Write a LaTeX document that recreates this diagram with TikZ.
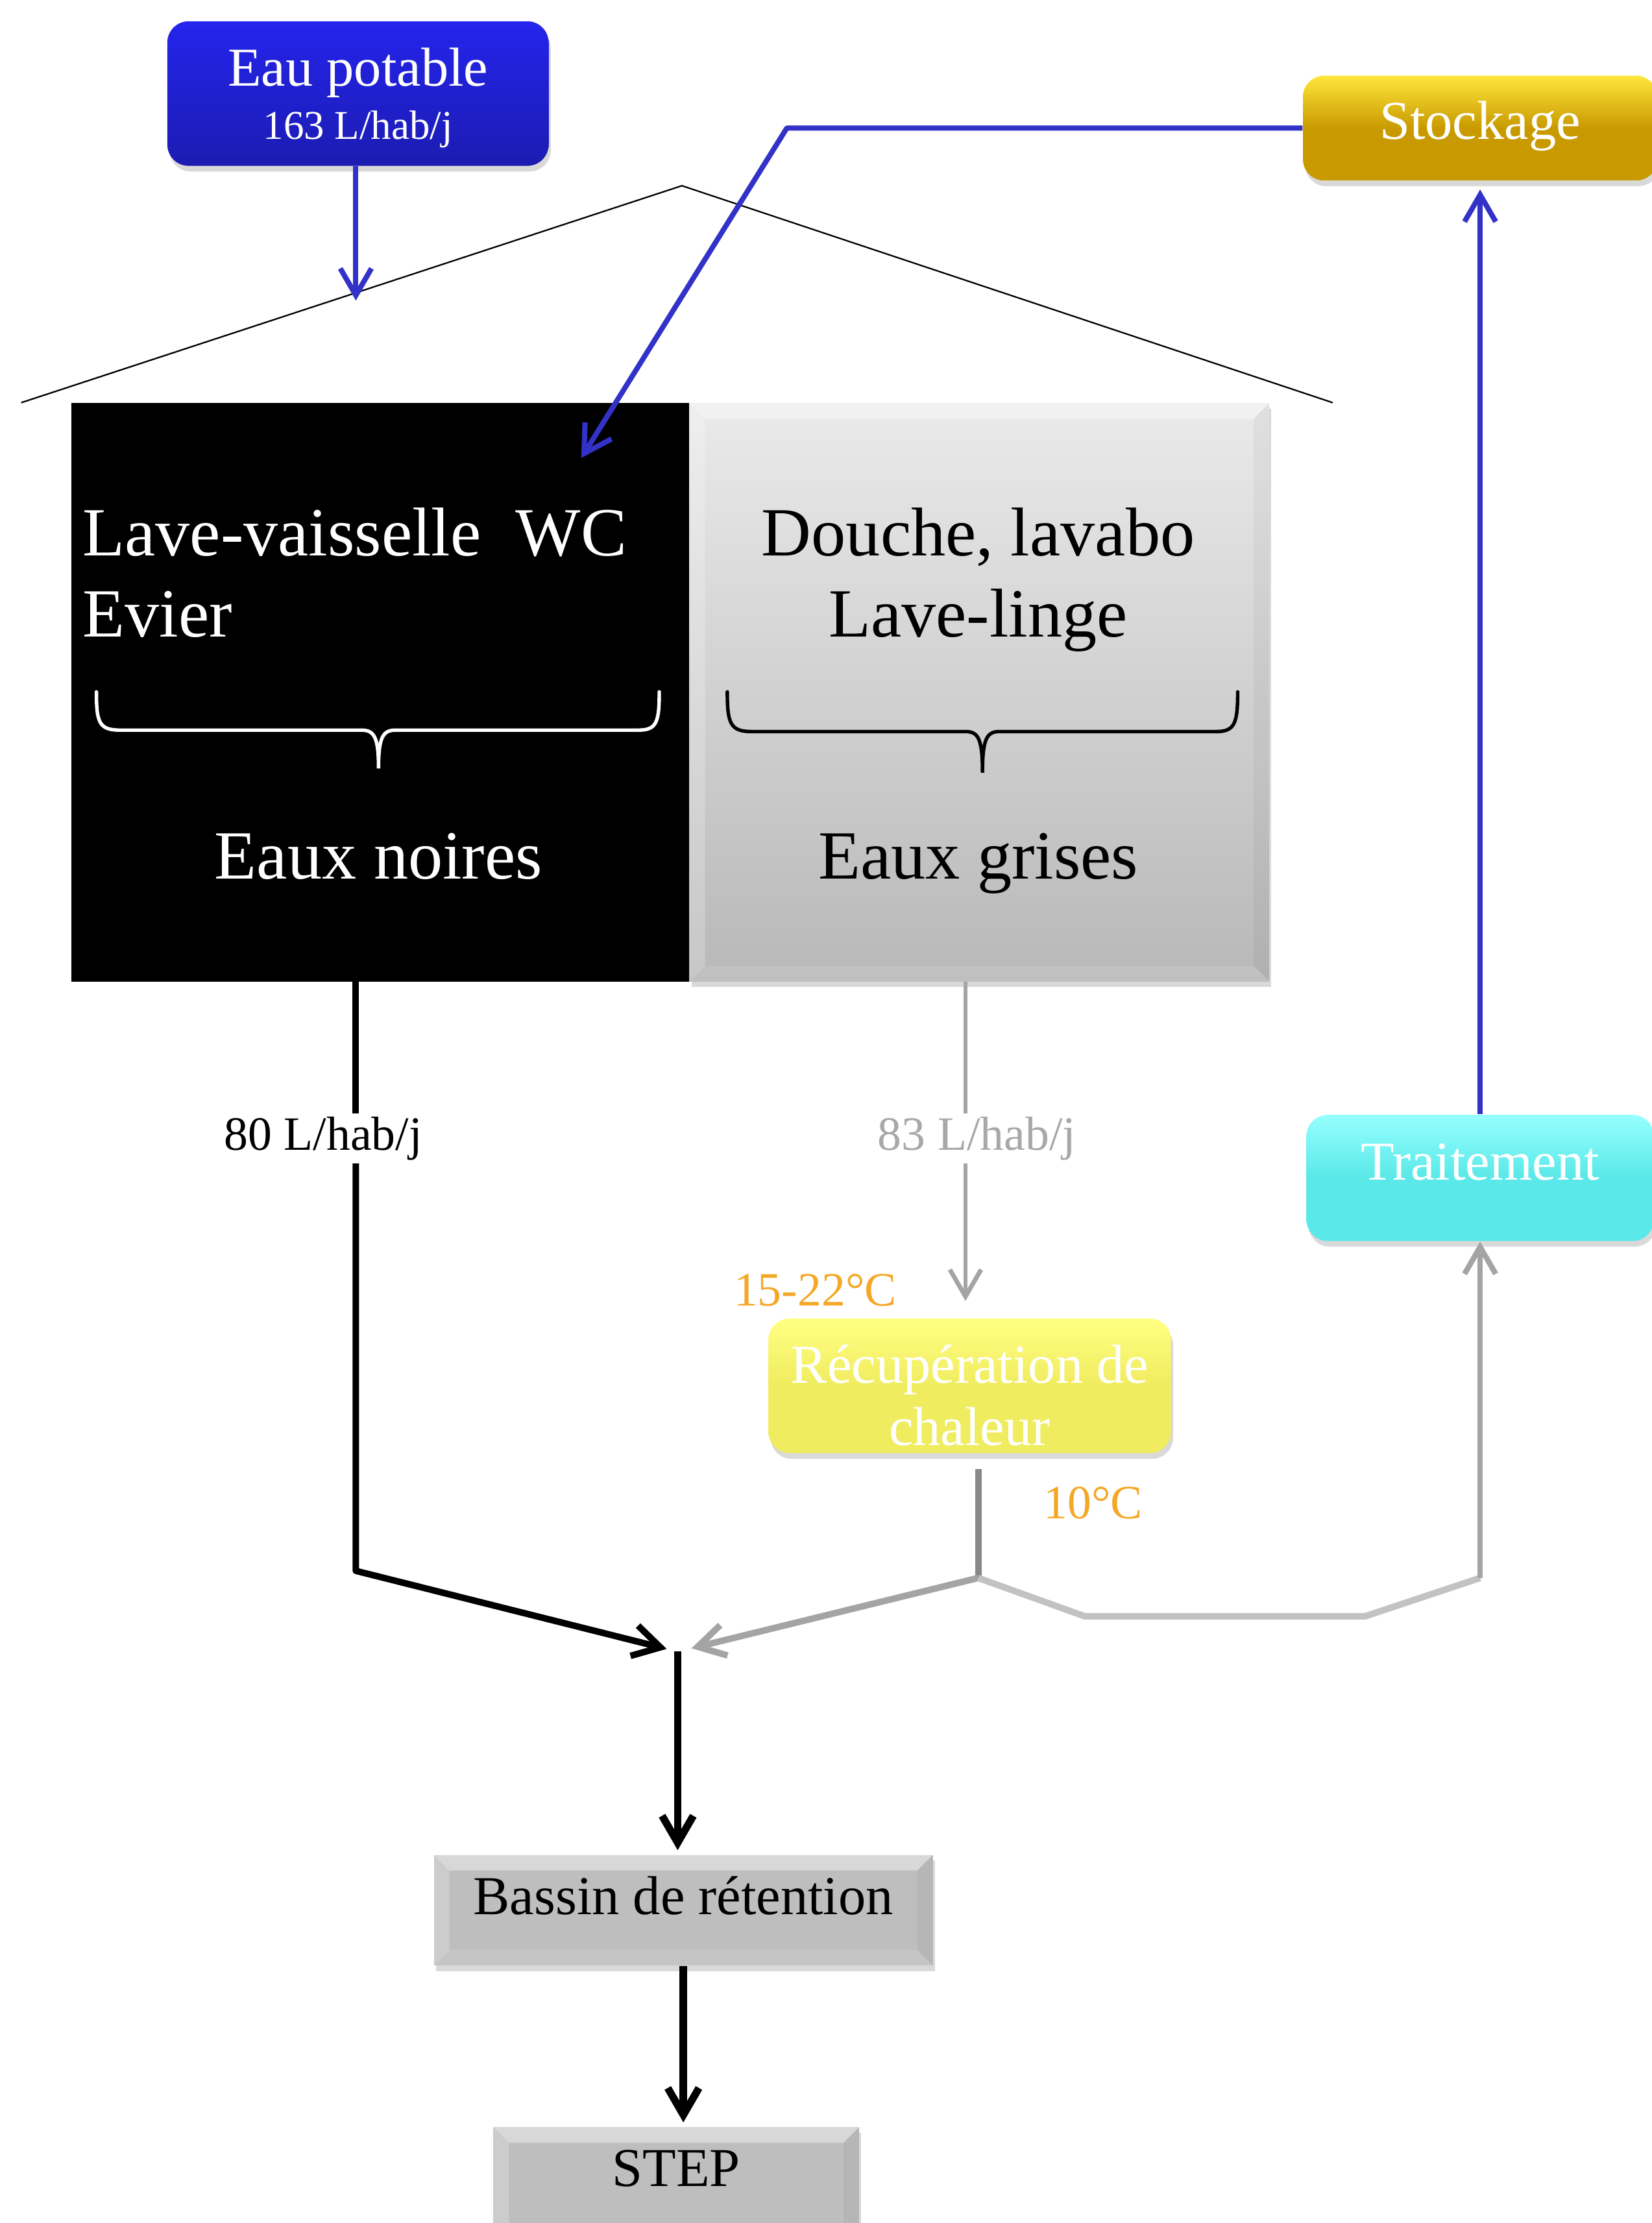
\documentclass[tikz,border=0pt]{standalone}
\usepackage{fontspec}
\setmainfont{Liberation Serif}
\usetikzlibrary{arrows.meta,calc,shadows,positioning}

\definecolor{bleuEau}{RGB}{36,36,236}
\definecolor{bleuEauF}{RGB}{28,28,178}
\definecolor{bleuFlux}{RGB}{50,50,200}
\definecolor{orStock}{RGB}{201,154,0}
\definecolor{orClair}{RGB}{255,230,60}
\definecolor{cyanTrait}{RGB}{90,232,232}
\definecolor{cyanClair}{RGB}{150,255,255}
\definecolor{jauneRecup}{RGB}{240,236,96}
\definecolor{jauneClair}{RGB}{255,255,130}
\definecolor{orangeTemp}{RGB}{245,168,40}
\definecolor{grisHaut}{RGB}{234,234,234}
\definecolor{grisBas}{RGB}{184,184,184}
\definecolor{grisBassin}{RGB}{190,190,190}
\definecolor{grisTexte}{RGB}{168,168,168}
\definecolor{grisFlux}{RGB}{164,164,164}
\definecolor{grisSortie}{RGB}{136,136,136}
\definecolor{grisPale}{RGB}{194,194,194}

\tikzset{
  biseau/.style={path picture={
    \path (path picture bounding box.north west) coordinate (bNO)
          (path picture bounding box.north east) coordinate (bNE)
          (path picture bounding box.south west) coordinate (bSO)
          (path picture bounding box.south east) coordinate (bSE);
    \fill[white,opacity=.4] (bNO) -- (bNE) -- ($(bNE)+(-#1,-#1)$) -- ($(bNO)+(#1,-#1)$) -- cycle;
    \fill[white,opacity=.22] (bNO) -- (bSO) -- ($(bSO)+(#1,#1)$) -- ($(bNO)+(#1,-#1)$) -- cycle;
    \fill[black,opacity=.04] (bNE) -- (bSE) -- ($(bSE)+(-#1,#1)$) -- ($(bNE)+(-#1,-#1)$) -- cycle;
    \fill[white,opacity=.12] (bSO) -- (bSE) -- ($(bSE)+(-#1,#1)$) -- ($(bSO)+(#1,#1)$) -- cycle;
  }},
  biseau/.default=0.22cm
}

\begin{document}
\begin{tikzpicture}[x=0.02cm, y=-0.02cm,
    ombre/.style={drop shadow={opacity=0.3, shadow xshift=0.03cm, shadow yshift=-0.08cm}},
    boite/.style={rounded corners=0.3cm, ombre, text=white, align=center, inner sep=0pt,
      font=\fontsize{22}{24.5}\selectfont},
    plaque/.style={fill=grisBassin, biseau, ombre, inner sep=0pt, align=center,
      font=\fontsize{22}{24.5}\selectfont},
    grand/.style={font=\fontsize{27.7}{32.4}\selectfont, inner sep=0pt},
    fleche/.style={-{Straight Barb[length=0.38cm,width=0.44cm]}},
    debit/.style={fill=white, inner sep=0.04cm, font=\fontsize{19.2}{22}\selectfont},
    temp/.style={text=orangeTemp, inner sep=0pt, font=\fontsize{19.2}{22}\selectfont},
    accolade/.style={line width=1.4pt, line cap=round},
  ]
  \useasboundingbox (0,0) rectangle (1165,1568);

  \draw[line width=0.6pt] (15,284) -- (481,131) -- (940,284);

  \node[boite, top color=bleuEau, bottom color=bleuEauF, minimum width=5.38cm, minimum height=2.04cm,
    font=\fontsize{22}{21.5}\selectfont] (eau) at (252.5,66) {\rule{0pt}{0.66cm}Eau potable\\{\fontsize{16.4}{21.5}\selectfont 163 L/hab/j}};
  \node[boite, top color=orClair, bottom color=orStock, middle color=orStock, minimum width=5cm,
    anchor=north, text height=0.9cm, text depth=0.58cm] (stock) at (1044,53) {Stockage};
  \node[boite, top color=cyanClair, bottom color=cyanTrait, middle color=cyanTrait, minimum width=4.9cm,
    anchor=north, text height=0.92cm, text depth=0.86cm] (trait) at (1044,786) {Traitement};
  \node[boite, top color=jauneClair, bottom color=jauneRecup, middle color=jauneRecup, minimum width=5.68cm,
    minimum height=1.9cm, font=\fontsize{22}{25}\selectfont] (recup) at (684,977.5) {\rule{0pt}{0.8cm}Récupération de\\chaleur};

  \node[fill=black, minimum width=8.72cm, minimum height=8.16cm, inner sep=0pt, anchor=north west] (noires) at (50,284) {};
  \node[plaque, top color=grisHaut, bottom color=grisBas, minimum width=8.18cm, minimum height=8.16cm,
    anchor=north west] (grises) at (486,284) {};

  \node[grand, text=white, anchor=north west, align=left] (usagesN) at (58,358) {Lave-vaisselle\ \ WC\\Evier};
  \node[grand, anchor=north, align=center] (usagesG) at (690,358) {Douche, lavabo\\Lave-linge};
  \node[grand, text=white, anchor=base] (eauxN) at (267,620) {Eaux noires};
  \node[grand, anchor=base] (eauxG) at (690,620) {Eaux grises};

  \draw[accolade, white] (68,488) .. controls (68,510) and (70,515) .. (85,515) -- (255,515)
    .. controls (264,515) and (267,520) .. (267,542) .. controls (267,520) and (270,515) .. (279,515)
    -- (450,515) .. controls (463,515) and (465,510) .. (465,488);
  \draw[accolade, black] (513,488) .. controls (513,510) and (515,516) .. (530,516) -- (681,516)
    .. controls (690,516) and (693,521) .. (693,545) .. controls (693,521) and (696,516) .. (705,516)
    -- (858,516) .. controls (871,516) and (873,510) .. (873,488);

  \node[plaque, minimum width=7.04cm, anchor=north, text height=0.84cm, text depth=0.72cm] (bassin) at (482,1308) {Bassin de rétention};
  \node[plaque, minimum width=5.16cm, anchor=north, text height=0.84cm, text depth=0.9cm] (step) at (477,1500) {STEP};

  \node[debit] (debitN) at (228,803) {80 L/hab/j};
  \node[debit, text=grisTexte] (debitG) at (689,803) {83 L/hab/j};
  \node[temp] (tChaud) at (575,910) {15-22°C};
  \node[temp] (tFroid) at (771,1060) {10°C};

  \coordinate (toit) at (251,212);
  \coordinate (renvoi) at (555,90);
  \coordinate (cuisine) at (410,323);
  \coordinate (coudeN) at (251,1108);
  \coordinate (sortieG) at (681,692);
  \coordinate (coudeG) at (690,1113);
  \coordinate (conf) at (478,1165);

  \draw[bleuFlux, line width=2.1pt, fleche] (eau.south -| toit) -- (toit);
  \draw[bleuFlux, line width=2.1pt, fleche, line join=round] (stock.west) -- (stock.west -| renvoi) -- (cuisine);
  \draw[bleuFlux, line width=2.1pt, fleche, shorten >=0.12cm] (trait.north) -- (stock.south);

  \draw[line width=2.6pt] (noires.south west -| coudeN) -- (debitN.north -| coudeN);
  \draw[line width=2.6pt, fleche, shorten >=0.16cm, line join=round] (debitN.south -| coudeN) -- (coudeN) -- (conf);

  \draw[grisFlux, line width=1.8pt] (grises.south -| sortieG) -- (debitG.north -| sortieG);
  \draw[grisFlux, line width=1.8pt, fleche, shorten >=0.24cm] (debitG.south -| sortieG) -- (recup.north -| sortieG);

  \draw[grisSortie, line width=2.6pt] ([yshift=-0.22cm]recup.south -| coudeG) -- (coudeG);
  \draw[grisFlux, line width=2.6pt, fleche, shorten >=0.2cm] (coudeG) -- (conf);
  \draw[grisPale, line width=2.6pt] (coudeG) -- ++(75,27) -- ++(198,0) -- (trait.south |- coudeG);
  \draw[grisFlux, line width=2.2pt, fleche] (trait.south |- coudeG) -- (trait.south);

  \draw[line width=3pt, fleche, shorten >=0.06cm] (conf) -- (conf |- bassin.north);
  \draw[line width=3pt, fleche, shorten >=0.06cm] (bassin.south) -- (bassin.south |- step.north);
\end{tikzpicture}
\end{document}
